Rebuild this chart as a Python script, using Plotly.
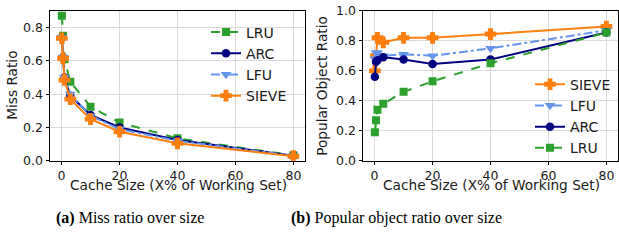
import plotly.graph_objects as go

# ---- data ----
cache_size = [0.1, 0.5, 1, 3, 10, 20, 40, 80]

miss_lru = [0.87, 0.75, 0.61, 0.475, 0.325, 0.23, 0.135, 0.033]
miss_arc = [0.74, 0.62, 0.50, 0.39, 0.275, 0.20, 0.125, 0.030]
miss_lfu = [0.74, 0.62, 0.50, 0.40, 0.27, 0.19, 0.12, 0.030]
miss_sieve = [0.735, 0.615, 0.485, 0.37, 0.25, 0.175, 0.105, 0.028]

pop_sieve = [0.60, 0.70, 0.82, 0.79, 0.82, 0.82, 0.845, 0.895]
pop_lfu = [0.68, 0.72, 0.72, 0.70, 0.71, 0.70, 0.75, 0.87]
pop_arc = [0.56, 0.66, 0.67, 0.69, 0.675, 0.645, 0.675, 0.855]
pop_lru = [0.19, 0.27, 0.34, 0.38, 0.46, 0.53, 0.65, 0.855]

x_ticks = [0, 20, 40, 60, 80]
y_ticks_left = [0.0, 0.2, 0.4, 0.6, 0.8]
y_ticks_right = [0.0, 0.2, 0.4, 0.6, 0.8, 1.0]

caption_a = "<b>(a)</b> Miss ratio over size"
caption_b = "<b>(b)</b> Popular object ratio over size"

# ---- styles ----
C_LRU = "#2ca02c"
C_ARC = "#000080"
C_LFU = "#6495ED"
C_SIEVE = "#ff7f0e"

W, H = 619, 241
FONT = "DejaVu Sans"
TXT = "#1a1a1a"

styles = {
    "LRU": dict(color=C_LRU, dash="dash", symbol="square", size=8, lw=0),
    "ARC": dict(color=C_ARC, dash="solid", symbol="circle", size=8.5, lw=0),
    "LFU": dict(color=C_LFU, dash="dashdot", symbol="triangle-down", size=9.5, lw=0),
    "SIEVE": dict(color=C_SIEVE, dash="solid", symbol="cross", size=8.5, lw=1.5),
}

fig = go.Figure()


def add(name, y, xa, ya, legend):
    s = styles[name]
    fig.add_trace(go.Scatter(
        x=cache_size, y=y, name=name, mode="lines+markers",
        xaxis=xa, yaxis=ya, legend=legend,
        line=dict(color=s["color"], width=2, dash=s["dash"]),
        marker=dict(color=s["color"], symbol=s["symbol"], size=s["size"],
                    line=dict(width=s["lw"], color=s["color"])),
    ))


add("LRU", miss_lru, "x", "y", "legend")
add("ARC", miss_arc, "x", "y", "legend")
add("LFU", miss_lfu, "x", "y", "legend")
add("SIEVE", miss_sieve, "x", "y", "legend")

add("SIEVE", pop_sieve, "x2", "y2", "legend2")
add("LFU", pop_lfu, "x2", "y2", "legend2")
add("ARC", pop_arc, "x2", "y2", "legend2")
add("LRU", pop_lru, "x2", "y2", "legend2")


def px_x(p):
    return p / W


def px_y(p):
    return 1 - p / H


axis_common = dict(
    showline=True, linecolor="black", linewidth=1, mirror=True,
    ticks="outside", ticklen=3.5, tickwidth=1, tickcolor="black",
    showgrid=True, gridcolor="#d9d9d9", gridwidth=1,
    zeroline=False, ticklabeloverflow="allow",
    tickfont=dict(family=FONT, size=12.5, color=TXT),
)

ydom = [px_y(163), px_y(3)]

fig.update_layout(
    width=W, height=H,
    margin=dict(l=0, r=0, t=0, b=0),
    paper_bgcolor="white", plot_bgcolor="white",
    font=dict(family=FONT, size=13, color=TXT),
    xaxis=dict(domain=[px_x(50), px_x(305)], range=[-4, 84], tickvals=x_ticks,
               anchor="y", **axis_common),
    yaxis=dict(domain=ydom, range=[0, 0.9], tickvals=y_ticks_left,
               tickformat=".1f", anchor="x", **axis_common),
    xaxis2=dict(domain=[px_x(363), px_x(618)], range=[-4, 84], tickvals=x_ticks,
                anchor="y2", **axis_common),
    yaxis2=dict(domain=ydom, range=[0, 1.0], tickvals=y_ticks_right,
                tickformat=".1f", anchor="x2", **axis_common),
    legend=dict(x=px_x(206), y=px_y(9), xanchor="left", yanchor="top",
                bgcolor="rgba(0,0,0,0)", borderwidth=0,
                font=dict(family=FONT, size=14, color=TXT),
                itemwidth=30, tracegroupgap=0),
    legend2=dict(x=px_x(530), y=px_y(166), xanchor="left", yanchor="bottom",
                 bgcolor="rgba(0,0,0,0)", borderwidth=0,
                 font=dict(family=FONT, size=14, color=TXT),
                 itemwidth=30, tracegroupgap=0),
    showlegend=True,
)

annotations = [
    dict(text="Miss Ratio", x=px_x(12), y=px_y(83), textangle=-90),
    dict(text="Popular Object Ratio", x=px_x(322), y=px_y(83), textangle=-90),
    dict(text="Cache Size (X% of Working Set)", x=px_x(178), y=px_y(189)),
    dict(text="Cache Size (X% of Working Set)", x=px_x(491), y=px_y(189)),
]
for a in annotations:
    fig.add_annotation(xref="paper", yref="paper", showarrow=False,
                       xanchor="center", yanchor="middle",
                       font=dict(family=FONT, size=13.7, color=TXT), **a)

for text, xc in [(caption_a, 130), (caption_b, 396)]:
    fig.add_annotation(text=text, xref="paper", yref="paper", showarrow=False,
                       x=px_x(xc), y=px_y(224), xanchor="center", yanchor="middle",
                       font=dict(family="Liberation Serif", size=16, color="black"))

fig.write_html("out.html",
               config={"displayModeBar": False},
               post_script="document.body.style.margin='0';"
                           "document.body.style.overflow='hidden';")
